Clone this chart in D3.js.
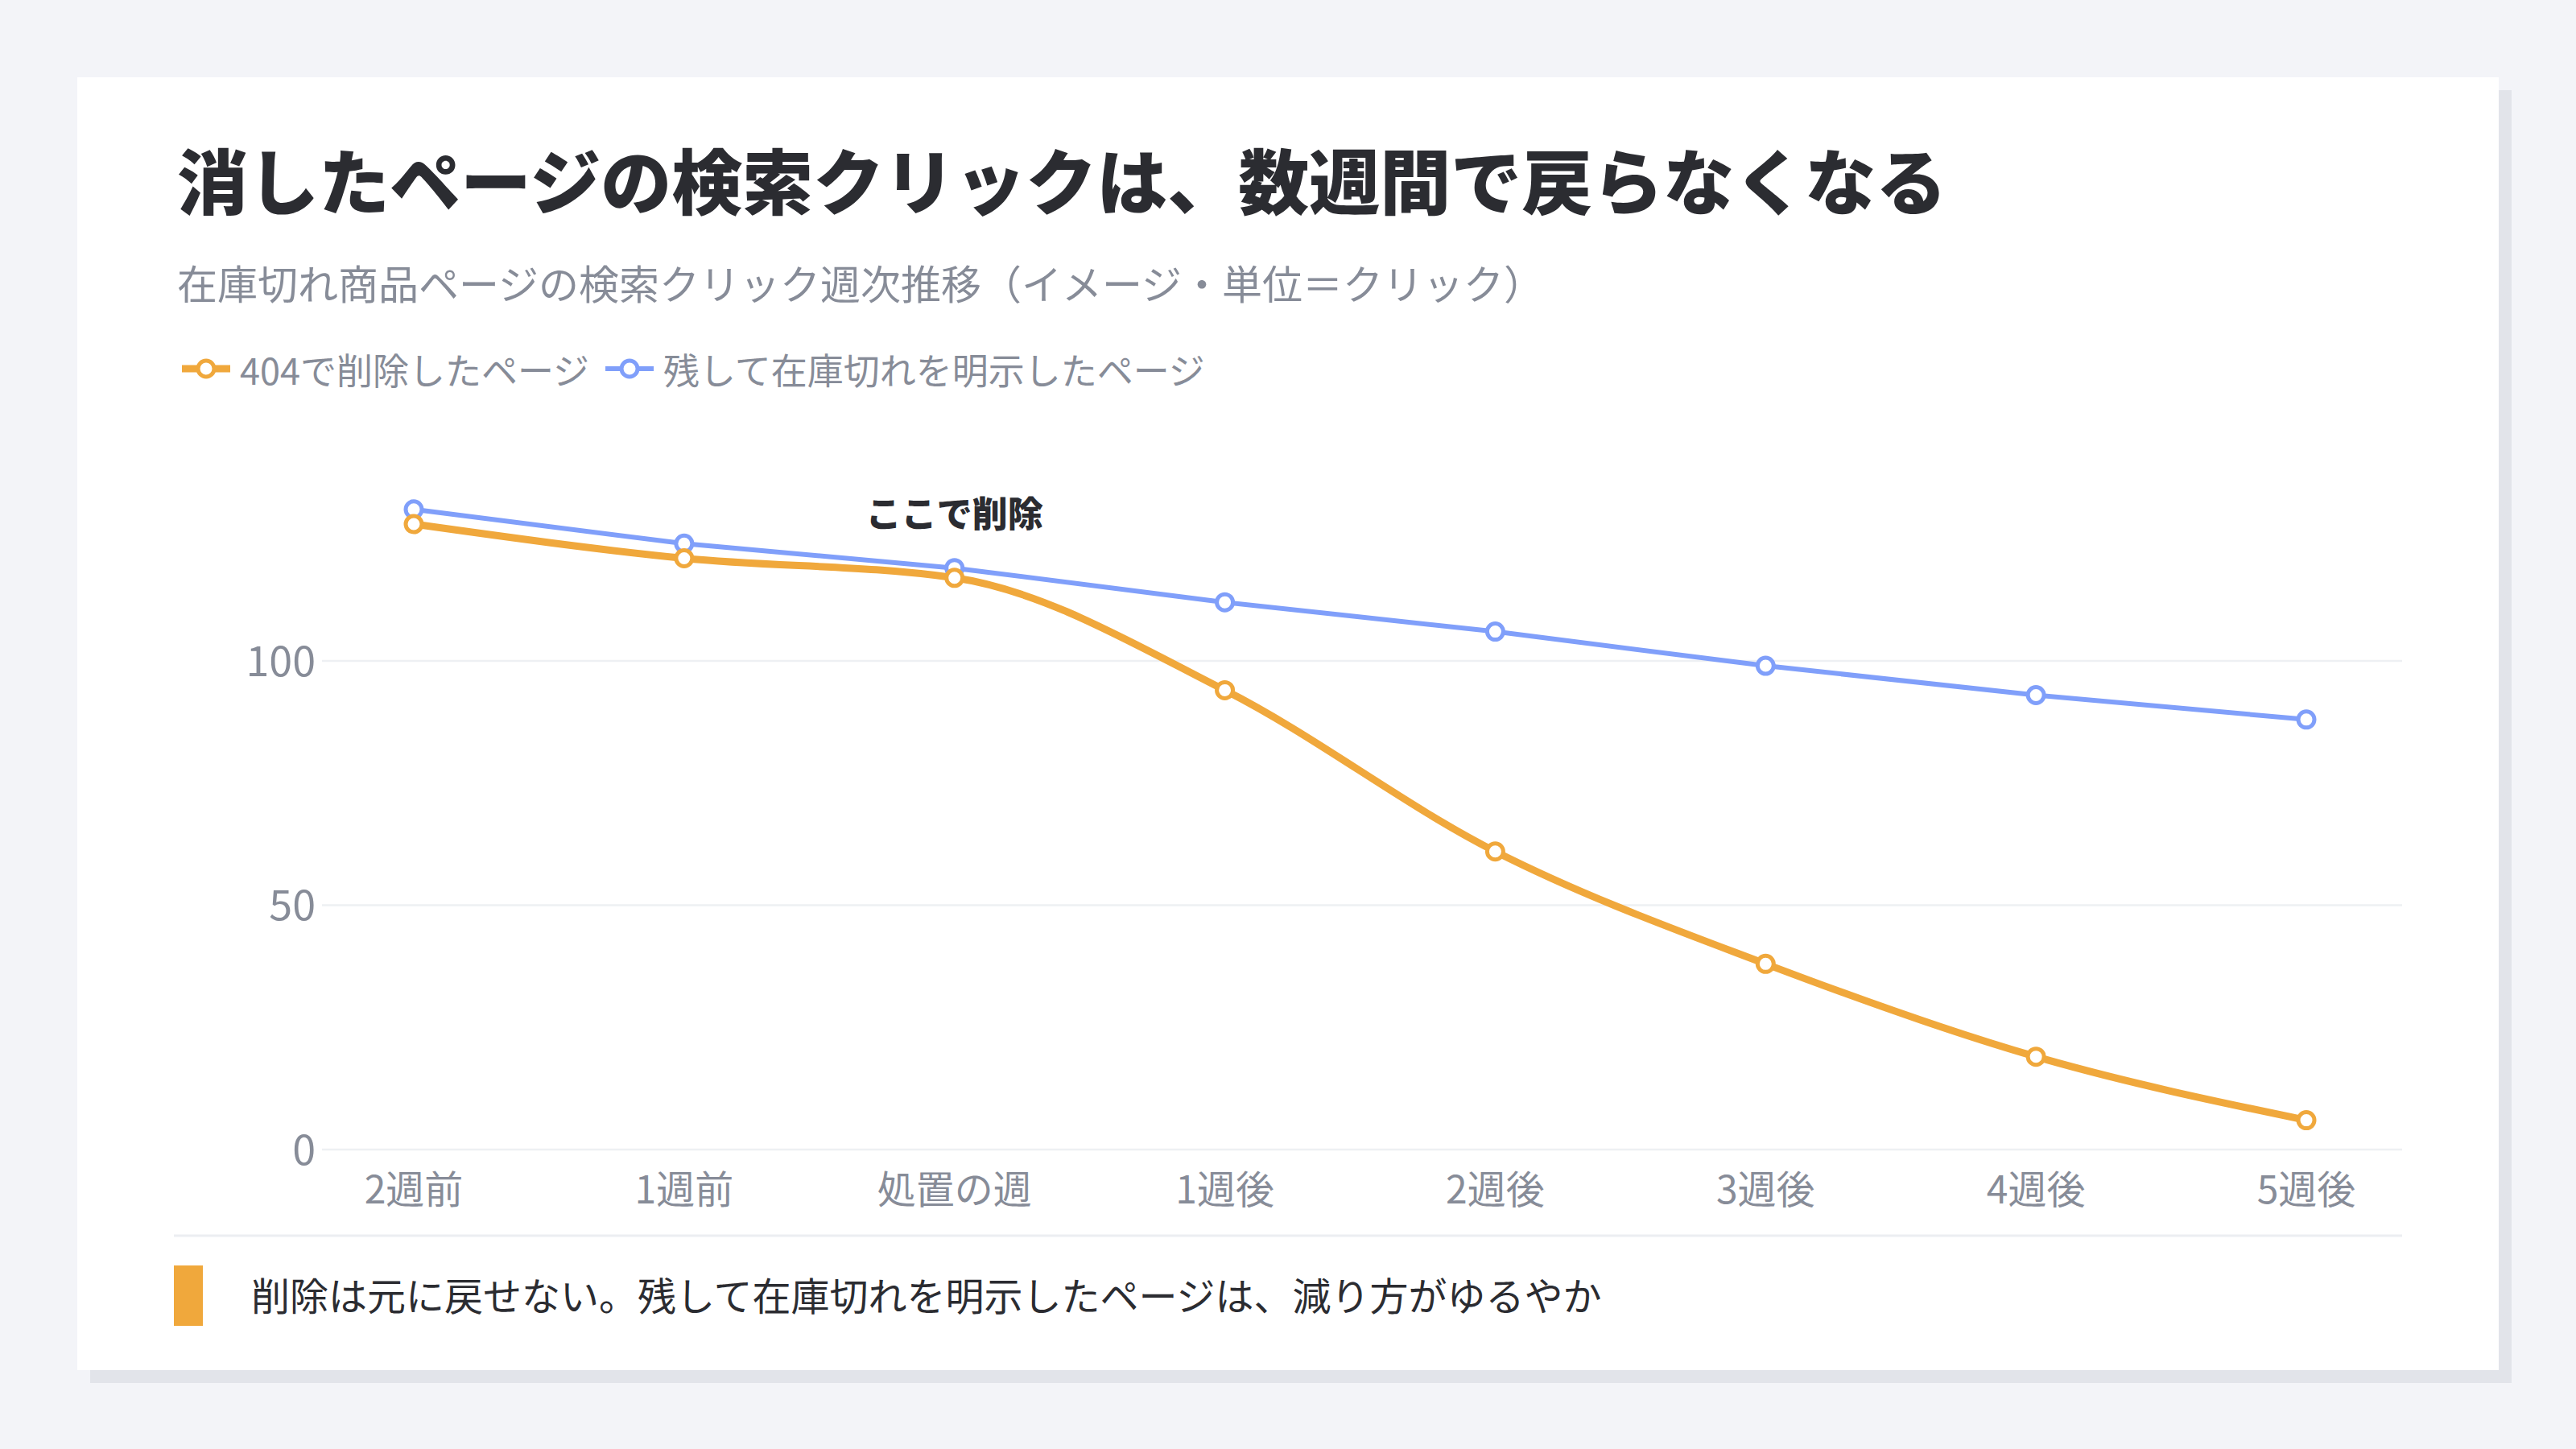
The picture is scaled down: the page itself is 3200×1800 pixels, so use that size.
<!DOCTYPE html>
<html>
<head>
<meta charset="utf-8">
<script src="https://cdn.jsdelivr.net/npm/d3@7"></script>
<style>
	html, body { margin: 0; padding: 0; background: #f3f4f8; }
	svg { display: block; font-family: "Noto Sans CJK JP", "Noto Sans", sans-serif; }
</style>
</head>
<body>
<svg id="chart" width="3200" height="1800"></svg>
<script>
// chart data
const weeks = ["2週前", "1週前", "処置の週", "1週後", "2週後", "3週後", "4週後", "5週後"];
const deletedClicks = [128, 121, 117, 94, 61, 38, 19, 6];
const keptClicks = [131, 124, 119, 112, 106, 99, 93, 88];
const yTicks = [0, 50, 100];
const seriesNames = ["404で削除したページ", "残して在庫切れを明示したページ"];
const titleText = "消したページの検索クリックは、数週間で戻らなくなる";
const subtitleText = "在庫切れ商品ページの検索クリック週次推移（イメージ・単位＝クリック）";
const noteText = "削除は元に戻せない。残して在庫切れを明示したページは、減り方がゆるやか";
const markerText = "ここで削除";
const markerWeek = "処置の週";

const orange = "#f0a83c",
	blue = "#809ffa",
	gray = "#878c98",
	dark = "#2b2c31";

const svg = d3.select("#chart");

// card with flat shadow
svg.append("rect").attr("x", 112).attr("y", 112).attr("width", 3008).attr("height", 1606).attr("fill", "#e2e4ea");
svg.append("rect").attr("x", 96).attr("y", 96).attr("width", 3008).attr("height", 1606).attr("fill", "#ffffff");

// title + subtitle
svg.append("text")
	.attr("x", 220).attr("y", 220)
	.attr("dominant-baseline", "central")
	.attr("font-size", 88).attr("font-weight", 900)
	.attr("fill", dark)
	.text(titleText);

svg.append("text")
	.attr("x", 220).attr("y", 350)
	.attr("dominant-baseline", "central")
	.attr("font-size", 50)
	.attr("fill", gray)
	.text(subtitleText);

// legend
const legend = svg.append("g").attr("transform", "translate(226, 458)");
const legendItems = [
	{ name: seriesNames[0], color: orange, width: 9 },
	{ name: seriesNames[1], color: blue, width: 6 }
];
let lx = 0;
legendItems.forEach(item => {
	const g = legend.append("g").attr("transform", `translate(${lx}, 0)`);
	g.append("line").attr("x1", 0).attr("x2", 60).attr("stroke", item.color).attr("stroke-width", item.width);
	g.append("circle").attr("cx", 30).attr("r", 10).attr("fill", "#fff").attr("stroke", item.color).attr("stroke-width", 5);
	const t = g.append("text")
		.attr("x", 72)
		.attr("dominant-baseline", "central")
		.attr("font-size", 45)
		.attr("fill", gray)
		.text(item.name);
	lx += 72 + t.node().getComputedTextLength() + 20;
});

// scales
const x = d3.scalePoint().domain(weeks).range([514, 2865]);
const y = d3.scaleLinear().domain([0, 100]).range([1428, 821]);
const gridLeft = 400, gridRight = 2984;

// grid + y labels
const grid = svg.append("g");
grid.selectAll("line")
	.data(yTicks)
	.enter().append("line")
	.attr("x1", gridLeft).attr("x2", gridRight)
	.attr("y1", d => y(d)).attr("y2", d => y(d))
	.attr("stroke", "#eef0f3").attr("stroke-width", 2.5);

grid.selectAll("text")
	.data(yTicks)
	.enter().append("text")
	.attr("x", 392).attr("y", d => y(d) - 4)
	.attr("text-anchor", "end")
	.attr("dominant-baseline", "central")
	.attr("font-size", 52)
	.attr("fill", gray)
	.text(d => d);

// x labels
svg.append("g").selectAll("text")
	.data(weeks)
	.enter().append("text")
	.attr("x", d => x(d)).attr("y", 1474)
	.attr("text-anchor", "middle")
	.attr("dominant-baseline", "central")
	.attr("font-size", 48)
	.attr("fill", gray)
	.text(d => d);

// lines
const blueLine = d3.line().x((d, i) => x(weeks[i])).y(d => y(d));
const orangeLine = d3.line().x((d, i) => x(weeks[i])).y(d => y(d)).curve(d3.curveMonotoneX);

svg.append("path")
	.attr("d", blueLine(keptClicks))
	.attr("fill", "none").attr("stroke", blue).attr("stroke-width", 6);

svg.append("path")
	.attr("d", orangeLine(deletedClicks))
	.attr("fill", "none").attr("stroke", orange).attr("stroke-width", 9)
	.attr("stroke-linejoin", "round");

// point markers
[[keptClicks, blue], [deletedClicks, orange]].forEach(([vals, color]) => {
	svg.append("g").selectAll("circle")
		.data(vals)
		.enter().append("circle")
		.attr("cx", (d, i) => x(weeks[i]))
		.attr("cy", d => y(d))
		.attr("r", 10)
		.attr("fill", "#fff")
		.attr("stroke", color)
		.attr("stroke-width", 5);
});

// annotation
svg.append("text")
	.attr("x", x(markerWeek)).attr("y", 636)
	.attr("text-anchor", "middle")
	.attr("dominant-baseline", "central")
	.attr("font-size", 44).attr("font-weight", 900)
	.attr("fill", dark)
	.text(markerText);

// footer
svg.append("line")
	.attr("x1", 216).attr("x2", gridRight)
	.attr("y1", 1535).attr("y2", 1535)
	.attr("stroke", "#eceef2").attr("stroke-width", 3);

svg.append("rect")
	.attr("x", 216).attr("y", 1572).attr("width", 36).attr("height", 75)
	.attr("fill", orange);

svg.append("text")
	.attr("x", 312).attr("y", 1607)
	.attr("dominant-baseline", "central")
	.attr("font-size", 48)
	.attr("fill", dark)
	.text(noteText);
</script>
</body>
</html>
